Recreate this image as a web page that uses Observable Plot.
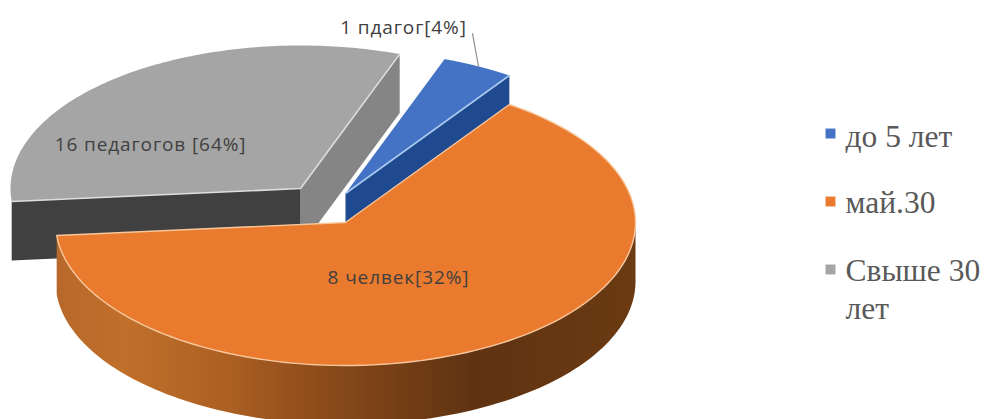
<!DOCTYPE html>
<html><head><meta charset="utf-8">
<script src="https://cdn.jsdelivr.net/npm/d3@7"></script>
<script src="https://cdn.jsdelivr.net/npm/@observablehq/plot@0.6"></script>
<style>html,body{margin:0;padding:0;background:#fff}svg{display:block}.lbl text{letter-spacing:0.9px}</style>
</head><body><div id="chart"></div>
<script>
// data
const categories = ["до 5 лет", "май.30", "Свыше 30 лет"];
const shares = [4, 64, 32];
const dataLabels = ["1 пдагог[4%]", "8 челвек[32%]", "16 педагогов [64%]"];

// styling / layout
const topColors = ["#4472c4", "#e97a2e", "#a5a5a5"];
const rimColors = ["#a9c8ee", "#f7c79c", "#dedede"];
const centers = [[345, 193], [345, 222], [300, 188]];
const rx = 290, ry = 143, depth = 59;
const firstAngle = 20 * Math.PI / 180;

const slices = d3.pie().sort(null).startAngle(firstAngle).endAngle(firstAngle + 2 * Math.PI)(shares);
const pt = (i, a, r = 1, dz = 0) => ({
  x: centers[i][0] + rx * r * Math.sin(a),
  y: centers[i][1] - ry * r * Math.cos(a) + dz
});
const arc = (i, a0, a1, dz = 0) => d3.range(0, 121).map(k => pt(i, a0 + (a1 - a0) * k / 120, 1, dz));
const poly = (pts, o) => Plot.line(pts, {x: "x", y: "y", curve: "linear", ...o});

const tip = (i, dz = 0) => ({x: centers[i][0], y: centers[i][1] + dz});
const topShape = i => [tip(i), ...arc(i, slices[i].startAngle, slices[i].endAngle), tip(i)];

const defs = () => {
  const s = d3.create("svg:defs");
  const g = s.append("linearGradient").attr("id", "wall").attr("gradientUnits", "userSpaceOnUse")
    .attr("x1", 55).attr("x2", 635).attr("y1", 0).attr("y2", 0);
  [[0, "#b8682a"], [0.12, "#c0702a"], [0.3, "#ab5f22"], [0.5, "#844718"], [0.72, "#5f3312"], [1, "#6b3a12"]]
    .forEach(([o, c]) => g.append("stop").attr("offset", o).attr("stop-color", c));
  return s.node();
};

const grayEdgeFace = (a, c) => poly([tip(2), pt(2, a), pt(2, a, 1, depth), tip(2, depth), tip(2)], {fill: c});
const blueEdgeFace = poly([tip(0), pt(0, slices[0].endAngle), pt(0, slices[0].endAngle, 1, depth), tip(0, depth), tip(0)], {fill: "#1f4a90"});
const orangeWall = [...arc(1, Math.PI / 2, slices[1].endAngle), ...arc(1, slices[1].endAngle, Math.PI / 2, depth)];

const leader = [{x: 472, y: 33}, {x: 478, y: 66}];
const labelRows = [
  {t: dataLabels[0], x: 403, y: 27},
  {t: dataLabels[1], x: 398, y: 277},
  {t: dataLabels[2], x: 150, y: 144}
];
const legendRows = [
  {t: "до 5 лет", i: 0, y: 136},
  {t: "май.30", i: 1, y: 202},
  {t: "Свыше 30", i: 2, y: 270},
  {t: "лет", y: 308}
];
const swatches = [
  {i: 0, y: 133}, {i: 1, y: 201}, {i: 2, y: 269}
];

const chart = Plot.plot({
  width: 987, height: 419,
  marginTop: 0, marginBottom: 0, marginLeft: 0, marginRight: 0,
  x: {domain: [0, 987], range: [0, 987], axis: null},
  y: {domain: [0, 419], range: [0, 419], axis: null},
  style: {background: "#fff"},
  marks: [
    defs,
    // gray slice
    grayEdgeFace(slices[2].endAngle, "#858585"),
    grayEdgeFace(slices[2].startAngle, "#404040"),
    poly(topShape(2), {fill: topColors[2]}),
    poly([pt(2, slices[2].startAngle), tip(2), pt(2, slices[2].endAngle)], {stroke: rimColors[2], strokeWidth: 1.6}),
    // blue slice
    blueEdgeFace,
    poly(topShape(0), {fill: topColors[0]}),
    poly([tip(0), pt(0, slices[0].endAngle)], {stroke: rimColors[0], strokeWidth: 1.6}),
    // orange slice
    poly(orangeWall, {fill: "url(#wall)"}),
    poly(topShape(1), {fill: topColors[1], stroke: rimColors[1], strokeWidth: 1.4}),
    // leader
    poly(leader, {stroke: "#8c8c8c", strokeWidth: 1.2}),
    // data labels
    Plot.text(labelRows, {x: "x", y: "y", text: "t", fontSize: 19, fill: "#404040", fontFamily: "Open Sans", textAnchor: "middle", className: "lbl"}),
    // legend
    Plot.dot(swatches, {x: () => 830, y: "y", symbol: "square", r: 5.6, fill: d => topColors[d.i], stroke: "none"}),
    Plot.text(legendRows, {x: () => 845, y: "y", text: "t", textAnchor: "start", fontSize: 31.5, fill: "#595959", fontFamily: "Liberation Serif"})
  ]
});
document.getElementById("chart").append(chart);
</script></body></html>
